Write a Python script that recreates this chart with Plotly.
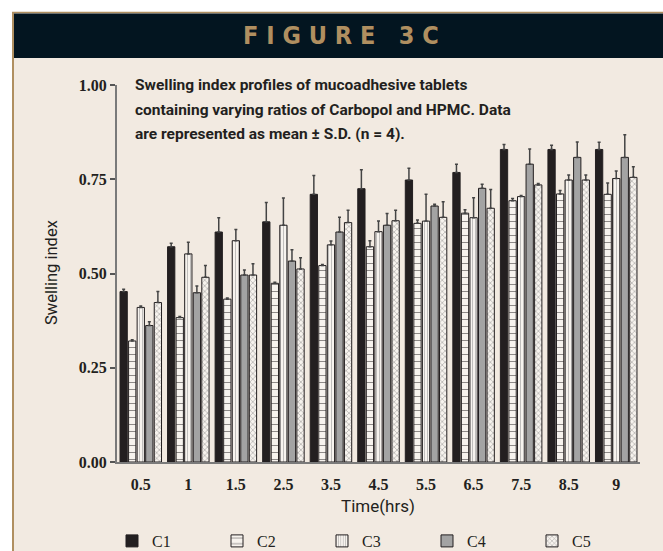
import plotly.graph_objects as go

categories = ["0.5", "1", "1.5", "2.5", "3.5", "4.5", "5.5", "6.5", "7.5", "8.5", "9"]
series_names = ["C1", "C2", "C3", "C4", "C5"]

c1 = [0.452, 0.571, 0.610, 0.637, 0.710, 0.725, 0.748, 0.768, 0.829, 0.829, 0.829]
c2 = [0.321, 0.383, 0.432, 0.474, 0.521, 0.571, 0.633, 0.660, 0.693, 0.711, 0.710]
c3 = [0.410, 0.552, 0.587, 0.628, 0.576, 0.611, 0.639, 0.648, 0.704, 0.748, 0.752]
c4 = [0.362, 0.449, 0.496, 0.533, 0.610, 0.628, 0.679, 0.726, 0.790, 0.808, 0.808]
c5 = [0.423, 0.490, 0.496, 0.512, 0.635, 0.640, 0.649, 0.673, 0.735, 0.748, 0.755]

c1_sd = [0.006, 0.009, 0.038, 0.051, 0.050, 0.050, 0.031, 0.022, 0.013, 0.011, 0.019]
c2_sd = [0.003, 0.003, 0.003, 0.003, 0.003, 0.016, 0.009, 0.009, 0.006, 0.009, 0.030]
c3_sd = [0.004, 0.031, 0.030, 0.072, 0.010, 0.028, 0.071, 0.053, 0.003, 0.013, 0.020]
c4_sd = [0.010, 0.018, 0.013, 0.030, 0.039, 0.031, 0.005, 0.011, 0.040, 0.041, 0.060]
c5_sd = [0.029, 0.031, 0.030, 0.030, 0.033, 0.028, 0.041, 0.050, 0.004, 0.013, 0.028]

y_ticks = [0.0, 0.25, 0.5, 0.75, 1.0]
y_ticklabels = ["0.00", "0.25", "0.50", "0.75", "1.00"]

W, H = 663, 551
L, R, T, B = 117, 23, 85, 89
PW, PH = W - L - R, H - T - B

def px_x(x):
    return (x - L) / PW

def px_y(y):
    return (H - B - y) / PH

BG = "#f2eae1"
DARK = "#231f20"
TAN = "#b08f60"
SANS = "Roboto"

styles = [
    dict(color=DARK, pattern=None),
    dict(color="#f7f3ee", pattern=dict(shape="-", fgcolor=DARK, bgcolor="#f7f3ee", size=7, solidity=0.15)),
    dict(color="#f7f3ee", pattern=dict(shape="|", fgcolor="#8a8a8a", bgcolor="#f7f3ee", size=3, solidity=0.35)),
    dict(color="#a3a3a3", pattern=None),
    dict(color="#f7f3ee", pattern=dict(shape="x", fgcolor="#555555", bgcolor="#f7f3ee", size=4, solidity=0.3)),
]

values = [c1, c2, c3, c4, c5]
sds = [c1_sd, c2_sd, c3_sd, c4_sd, c5_sd]

fig = go.Figure()
for name, vals, sd, st in zip(series_names, values, sds, styles):
    marker = dict(color=st["color"], line=dict(color=DARK, width=1))
    if st["pattern"] is not None:
        marker["pattern"] = st["pattern"]
    fig.add_trace(go.Bar(
        x=categories, y=vals, name=name, marker=marker,
        error_y=dict(type="data", array=sd, arrayminus=[0] * len(sd), symmetric=False,
                     color="#444444", thickness=1.5, width=1.5),
    ))

shapes = [
    dict(type="rect", xref="paper", yref="paper", x0=px_x(0), x1=px_x(W), y0=px_y(12), y1=px_y(0),
         fillcolor="white", line=dict(width=0), layer="below"),
    dict(type="rect", xref="paper", yref="paper", x0=px_x(0), x1=px_x(12), y0=px_y(H), y1=px_y(0),
         fillcolor="white", line=dict(width=0), layer="below"),
    dict(type="line", xref="paper", yref="paper", x0=px_x(12), x1=px_x(W), y0=px_y(12.5), y1=px_y(12.5),
         line=dict(color=TAN, width=1.5), layer="below"),
    dict(type="line", xref="paper", yref="paper", x0=px_x(13), x1=px_x(13), y0=px_y(12), y1=px_y(H),
         line=dict(color=TAN, width=2), layer="below"),
    dict(type="rect", xref="paper", yref="paper", x0=px_x(14), x1=px_x(W), y0=px_y(58), y1=px_y(13.5),
         fillcolor="#031520", line=dict(width=0), layer="below"),
]

title_font = dict(family=SANS, size=15.5, color=DARK, weight="bold")
annotations = [
    dict(text="F I G U R E   3 C", xref="paper", yref="paper", x=px_x(341), y=px_y(36),
         xanchor="center", yanchor="middle", showarrow=False,
         font=dict(family="DejaVu Sans Condensed", size=25, color=TAN, weight="bold")),
    dict(text="Swelling index profiles of mucoadhesive tablets", xref="paper", yref="paper",
         x=px_x(133), y=px_y(85), xanchor="left", yanchor="middle", showarrow=False, font=title_font),
    dict(text="containing varying ratios of Carbopol and HPMC. Data", xref="paper", yref="paper",
         x=px_x(133), y=px_y(109.5), xanchor="left", yanchor="middle", showarrow=False, font=title_font),
    dict(text="are represented as mean ± S.D. (n = 4).", xref="paper", yref="paper",
         x=px_x(133), y=px_y(134), xanchor="left", yanchor="middle", showarrow=False, font=title_font),
    dict(text="Time(hrs)", xref="paper", yref="paper", x=px_x(378), y=px_y(506),
         xanchor="center", yanchor="middle", showarrow=False,
         font=dict(family=SANS, size=17, color=DARK)),
    dict(text="Swelling index", xref="paper", yref="paper", x=px_x(51), y=px_y(273),
         xanchor="center", yanchor="middle", showarrow=False, textangle=-90,
         font=dict(family=SANS, size=16.5, color=DARK)),
]

fig.update_layout(
    width=W, height=H,
    margin=dict(l=L, r=R, t=T, b=B, autoexpand=False),
    paper_bgcolor=BG, plot_bgcolor="rgba(0,0,0,0)",
    barmode="group", bargap=0.1, bargroupgap=0.15,
    shapes=shapes, annotations=annotations,
    showlegend=True,
    legend=dict(orientation="h", xref="container", yref="container",
                x=112 / W, y=(H - 541) / H, xanchor="left", yanchor="middle",
                bgcolor="rgba(0,0,0,0)", entrywidth=60, entrywidthmode="pixels",
                font=dict(family="Liberation Serif", size=16, color=DARK), itemwidth=30,
                traceorder="normal"),
    xaxis=dict(
        showline=True, linecolor="#7a7a7a", linewidth=2, ticks="outside", ticklen=7,
        tickcolor="rgba(0,0,0,0)", showgrid=False, automargin=False,
        tickfont=dict(family="Liberation Serif", size=16, color=DARK, weight="bold"),
    ),
    yaxis=dict(
        range=[0, 1.0], tickvals=y_ticks, ticktext=y_ticklabels, automargin=False,
        showline=True, linecolor="#7a7a7a", linewidth=2, ticks="outside", ticklen=5, tickwidth=1.5,
        tickcolor="#555555", showgrid=False, zeroline=False,
        tickfont=dict(family="Liberation Serif", size=16, color=DARK, weight="bold"),
    ),
)

fig.write_html("out.html")
